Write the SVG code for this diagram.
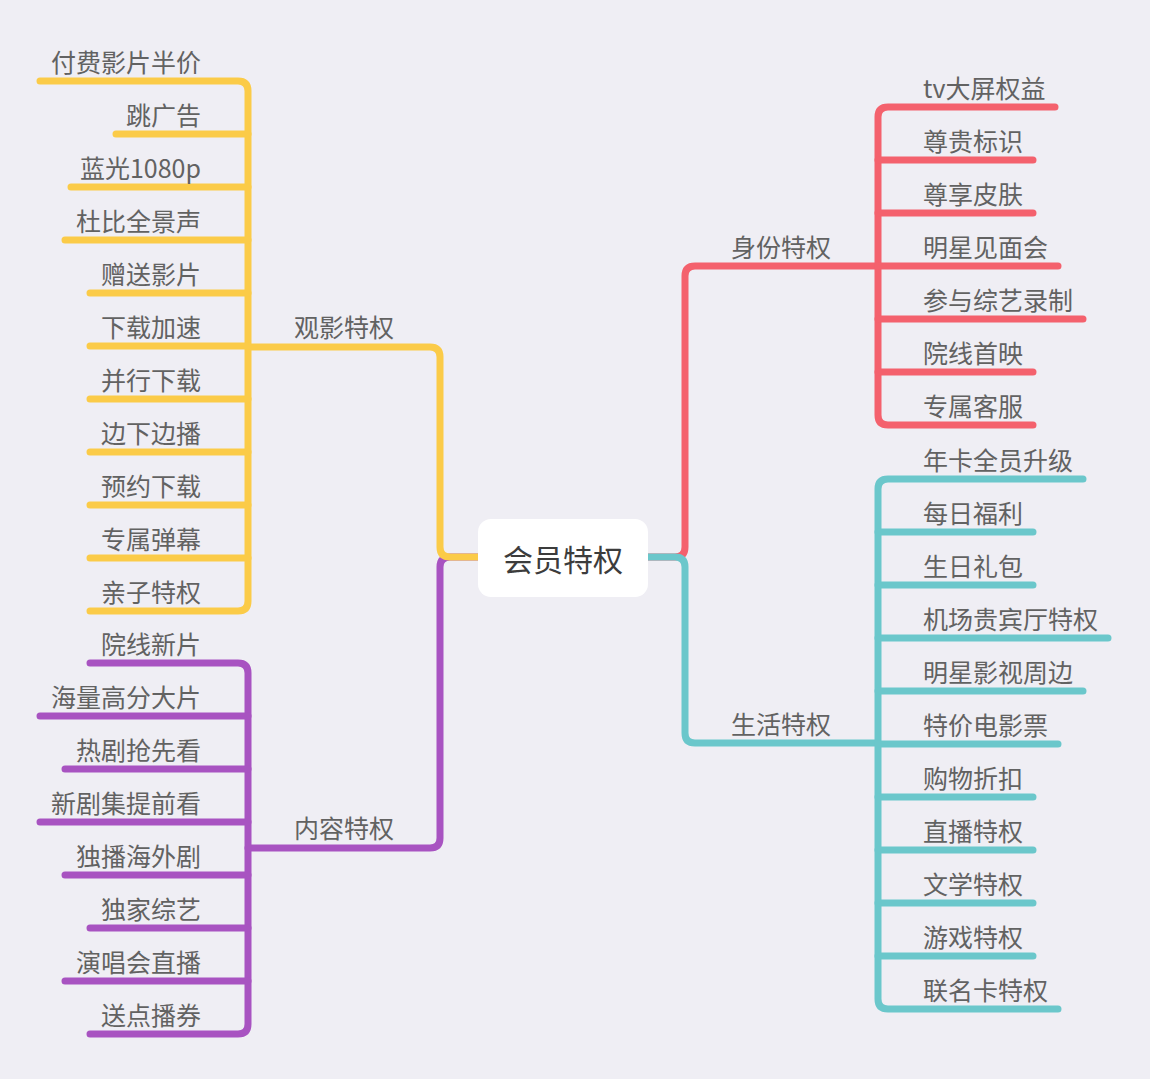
<svg xmlns="http://www.w3.org/2000/svg" width="1150" height="1079" viewBox="0 0 1150 1079">
<style>
.ln{fill:none;stroke-width:7;stroke-linecap:round;stroke-linejoin:round}
.y{stroke:#fbcb48}.p{stroke:#a853c1}.r{stroke:#f4616d}.t{stroke:#6bc7cb}
text{font-family:"Noto Sans CJK SC","Noto Sans",sans-serif;font-size:25px;fill:#626262}
.l{text-anchor:end}.m{text-anchor:middle}
</style>
<rect width="1150" height="1079" fill="#efeef4"/>
<g id="connectors">
<path class="ln p" d="M478 557 H450 Q440 557 440 567 V838 Q440 848 430 848 H248"/>
<path class="ln y" d="M478 557 H450 Q440 557 440 547 V357 Q440 347 430 347 H248"/>
<path class="ln r" d="M647 557 H675 Q685 557 685 547 V276 Q685 266 695 266 H878"/>
<path class="ln t" d="M647 557 H675 Q685 557 685 567 V733 Q685 743 695 743 H878"/>
<path class="ln y" d="M40 81 H238 Q248 81 248 91 V601 Q248 611 238 611 H90"/>
<path class="ln y" d="M116 134 H248 M71 187 H248 M65 240 H248 M90 293 H248 M90 346 H248 M90 399 H248 M90 452 H248 M90 505 H248 M90 558 H248"/>
<path class="ln p" d="M90 663 H238 Q248 663 248 673 V1024 Q248 1034 238 1034 H90"/>
<path class="ln p" d="M40 716 H248 M65 769 H248 M40 822 H248 M65 875 H248 M90 928 H248 M65 981 H248"/>
<path class="ln r" d="M1055 107 H888 Q878 107 878 117 V415 Q878 425 888 425 H1033"/>
<path class="ln r" d="M878 160 H1033 M878 213 H1033 M878 266 H1058 M878 319 H1083 M878 372 H1033"/>
<path class="ln t" d="M1083 479 H888 Q878 479 878 489 V999 Q878 1009 888 1009 H1058"/>
<path class="ln t" d="M878 532 H1033 M878 585 H1033 M878 638 H1108 M878 691 H1083 M878 744 H1058 M878 797 H1033 M878 850 H1033 M878 903 H1033 M878 956 H1033"/>
</g>
<g id="root"><rect x="478" y="519" width="170" height="78" rx="13" fill="#ffffff"/><text x="563" y="571" class="m" style="font-size:30px;fill:#3c3c3c">会员特权</text></g>
<g id="b-guanying"><text x="344" y="337" class="m">观影特权</text></g>
<g id="b-neirong"><text x="344" y="838" class="m">内容特权</text></g>
<g id="b-shenfen"><text x="781" y="257" class="m">身份特权</text></g>
<g id="b-shenghuo"><text x="781" y="734" class="m">生活特权</text></g>
<g id="leaves-yellow">
<text x="201" y="72" class="l">付费影片半价</text>
<text x="201" y="125" class="l">跳广告</text>
<text x="201" y="178" class="l">蓝光1080p</text>
<text x="201" y="231" class="l">杜比全景声</text>
<text x="201" y="284" class="l">赠送影片</text>
<text x="201" y="337" class="l">下载加速</text>
<text x="201" y="390" class="l">并行下载</text>
<text x="201" y="443" class="l">边下边播</text>
<text x="201" y="496" class="l">预约下载</text>
<text x="201" y="549" class="l">专属弹幕</text>
<text x="201" y="602" class="l">亲子特权</text>
</g>
<g id="leaves-purple">
<text x="201" y="654" class="l">院线新片</text>
<text x="201" y="707" class="l">海量高分大片</text>
<text x="201" y="760" class="l">热剧抢先看</text>
<text x="201" y="813" class="l">新剧集提前看</text>
<text x="201" y="866" class="l">独播海外剧</text>
<text x="201" y="919" class="l">独家综艺</text>
<text x="201" y="972" class="l">演唱会直播</text>
<text x="201" y="1025" class="l">送点播券</text>
</g>
<g id="leaves-red">
<text x="923" y="98">tv大屏权益</text>
<text x="923" y="151">尊贵标识</text>
<text x="923" y="204">尊享皮肤</text>
<text x="923" y="257">明星见面会</text>
<text x="923" y="310">参与综艺录制</text>
<text x="923" y="363">院线首映</text>
<text x="923" y="416">专属客服</text>
</g>
<g id="leaves-teal">
<text x="923" y="470">年卡全员升级</text>
<text x="923" y="523">每日福利</text>
<text x="923" y="576">生日礼包</text>
<text x="923" y="629">机场贵宾厅特权</text>
<text x="923" y="682">明星影视周边</text>
<text x="923" y="735">特价电影票</text>
<text x="923" y="788">购物折扣</text>
<text x="923" y="841">直播特权</text>
<text x="923" y="894">文学特权</text>
<text x="923" y="947">游戏特权</text>
<text x="923" y="1000">联名卡特权</text>
</g>
</svg>
